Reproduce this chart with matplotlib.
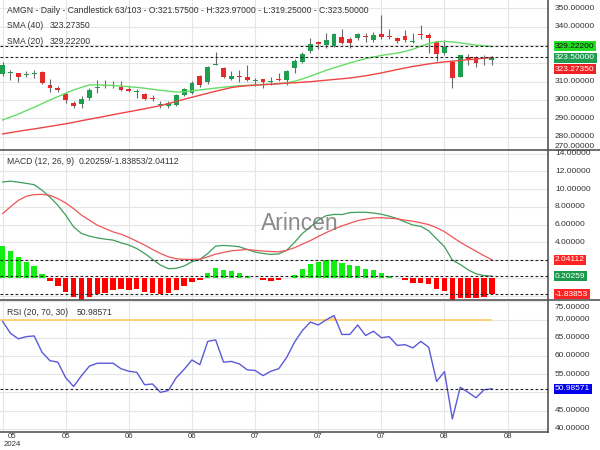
import matplotlib
matplotlib.use("Agg")
import matplotlib.pyplot as plt
from matplotlib.lines import Line2D
import numpy as np

plt.rcParams['font.family'] = ['Liberation Sans', 'DejaVu Sans']

# ---------------- data ----------------
symbol = "AMGN"
shown_bars = 63
total_bars = 103

opens = [314.2, 315.0, 314.6, 313.9, 314.3, 315.5, 308.2, 306.4, 303.1, 298.5,
         297.6, 300.9, 306.4, 307.9, 307.9, 306.9, 306.0, 304.3, 303.3, 301.1,
         297.4, 296.9, 297.5, 302.7, 304.0, 313.1, 309.8, 319.4, 317.3, 311.3,
         312.9, 312.7, 310.2, 311.3, 310.0, 311.6, 310.9, 317.3, 320.9, 326.9,
         331.9, 330.0, 329.5, 334.6, 333.3, 333.7, 334.6, 333.0, 336.0, 334.7,
         333.7, 335.0, 331.6, 335.7, 335.5, 331.7, 325.5, 320.6, 312.7, 323.7,
         323.3, 322.5, 321.575]
highs = [321.0, 316.6, 315.0, 315.7, 316.4, 315.8, 311.5, 307.7, 304.5, 299.2,
         302.2, 306.4, 310.9, 310.9, 310.3, 310.3, 307.7, 305.8, 303.8, 302.7,
         299.2, 299.5, 303.5, 306.4, 310.5, 313.7, 318.3, 326.1, 317.8, 316.0,
         316.4, 319.1, 311.9, 311.7, 312.7, 314.9, 316.4, 322.2, 326.4, 333.7,
         332.2, 336.4, 336.5, 338.6, 334.3, 336.4, 336.6, 337.0, 346.4, 338.6,
         334.5, 338.2, 336.4, 341.0, 336.4, 332.0, 332.8, 321.9, 324.6, 325.0,
         324.0, 324.6, 323.97]
lows = [313.1, 311.0, 310.0, 312.4, 312.2, 308.5, 304.5, 304.3, 298.2, 295.4,
        295.9, 300.0, 303.7, 306.6, 306.6, 304.9, 304.3, 300.9, 300.0, 299.6,
        295.4, 295.8, 296.5, 302.0, 303.5, 307.3, 309.0, 319.1, 312.2, 310.9,
        310.0, 310.3, 307.7, 306.4, 308.2, 310.6, 308.2, 314.6, 320.0, 325.5,
        327.7, 328.2, 329.0, 330.5, 328.2, 333.0, 331.9, 331.8, 333.5, 333.2,
        330.9, 331.8, 330.9, 333.2, 325.5, 321.5, 324.6, 306.4, 312.3, 319.1,
        318.2, 319.1, 319.25]
closes = [319.1, 315.4, 312.8, 314.4, 314.8, 309.1, 306.4, 305.6, 300.0, 296.8,
          300.5, 305.5, 307.3, 307.5, 307.4, 305.5, 305.0, 304.6, 300.6, 300.7,
          297.9, 298.3, 302.7, 305.8, 309.5, 308.0, 317.8, 319.9, 312.7, 313.1,
          312.5, 311.0, 310.6, 309.7, 310.4, 311.2, 315.6, 321.5, 325.0, 330.4,
          330.4, 332.8, 335.8, 331.1, 331.0, 336.0, 334.3, 335.7, 334.5, 334.3,
          332.0, 332.8, 332.1, 335.3, 333.7, 325.3, 328.8, 312.2, 324.6, 322.4,
          320.0, 323.0, 323.5]

sma20 = [289.1, 290.7, 292.3, 294.2, 296.0, 298.0, 300.0, 301.8, 303.7, 305.5,
         306.9, 308.2, 308.3, 308.1, 307.9, 307.6, 307.3, 306.9, 306.4, 305.9,
         305.3, 304.8, 304.4, 304.5, 305.0, 305.5, 306.0, 306.5, 307.0, 307.4,
         307.8, 308.0, 308.2, 308.4, 308.6, 308.9, 309.4, 310.2, 311.5, 313.0,
         314.6, 316.2, 317.6, 318.9, 320.2, 321.4, 322.6, 323.5, 324.3, 325.0,
         325.6, 326.5, 327.7, 329.4, 330.8, 331.8, 332.0, 331.7, 331.2, 330.6,
         330.0, 329.6, 329.222]
sma40 = [281.5, 282.2, 282.9, 283.6, 284.2, 284.9, 285.6, 286.3, 287.0, 287.8,
         288.7, 289.5, 290.3, 291.1, 292.0, 292.8, 293.6, 294.4, 295.2, 296.1,
         296.9, 298.0, 299.2, 300.4, 301.5, 302.6, 303.7, 304.8, 305.8, 306.8,
         307.4, 307.8, 308.1, 308.4, 308.6, 308.9, 309.2, 309.4, 309.7, 310.0,
         310.4, 310.8, 311.2, 311.6, 312.0, 312.6, 313.2, 314.0, 314.8, 315.7,
         316.6, 317.5, 318.3, 319.0, 319.7, 320.3, 320.8, 321.2, 321.6, 322.0,
         322.4, 322.8, 323.2735]

macd_line = [10.8, 10.9, 10.78, 10.65, 10.5, 9.87, 9.1, 8.18, 7.06, 5.74,
             5.0, 4.7, 4.5, 4.36, 4.25, 3.95, 3.69, 3.3, 2.75, 2.08,
             1.44, 1.03, 1.07, 1.33, 1.81, 2.08, 2.75, 3.57, 3.65, 3.6,
             3.5, 3.2, 2.9, 2.75, 2.64, 2.7, 3.1, 4.0, 5.0, 5.74,
             6.5, 7.0, 7.15, 7.13, 7.35, 7.39, 7.39, 7.3, 7.17, 6.95,
             6.68, 6.3, 5.95, 5.8, 5.3, 4.4, 3.5, 2.0, 1.5, 0.9,
             0.45, 0.25, 0.20259]
signal_line = [7.24, 8.0, 8.74, 9.19, 9.38, 9.41, 9.3, 8.93, 8.44, 7.8,
               7.06, 6.5, 5.93, 5.56, 5.18, 4.92, 4.55, 4.13, 3.69, 3.2,
               2.75, 2.37, 2.15, 2.08, 2.08, 2.1, 2.37, 2.67, 2.86, 3.05,
               3.12, 3.2, 3.1, 3.02, 2.96, 2.93, 3.1, 3.4, 3.8, 4.2,
               4.65, 5.1, 5.5, 5.85, 6.15, 6.45, 6.62, 6.75, 6.78, 6.72,
               6.65, 6.5, 6.38, 6.2, 6.0, 5.65, 5.2, 4.6, 4.0, 3.5,
               3.0, 2.5, 2.04112]
macd_hist = [3.56, 3.0, 2.32, 1.8, 1.31, 0.45, -0.34, -0.9, -1.65, -2.2,
             -2.5, -2.13, -1.84, -1.69, -1.39, -1.31, -1.39, -1.31, -1.57, -1.69,
             -1.84, -1.76, -1.39, -0.94, -0.45, -0.26, 0.56, 1.12, 0.86, 0.75,
             0.6, 0.22, 0.02, -0.26, -0.34, -0.26, -0.05, 0.37, 0.97, 1.6,
             1.76, 2.06, 2.06, 1.72, 1.39, 1.31, 1.01, 0.86, 0.49, 0.22,
             -0.05, -0.26, -0.56, -0.56, -0.64, -1.27, -1.46, -2.6, -2.32, -2.28,
             -2.32, -2.13, -1.83853]

rsi = [69.5, 66.2, 64.7, 65.3, 65.5, 61.0, 58.7, 58.3, 54.0, 51.6,
       54.6, 57.2, 58.0, 58.0, 58.0, 56.5, 55.8, 55.5, 52.1, 52.3,
       50.0, 50.5, 54.0, 56.3, 58.9, 57.6, 64.0, 64.4, 58.3, 58.5,
       57.8, 56.2, 56.0, 54.6, 55.8, 56.5, 59.6, 63.8, 67.0, 69.3,
       68.5, 69.9, 71.1, 65.9, 65.9, 68.5, 65.6, 66.8, 65.0, 65.3,
       62.9, 63.1, 62.2, 64.0, 62.4, 53.0, 55.7, 42.7, 51.4, 50.0,
       48.5, 50.7, 50.98571]

month_labels = ["05", "05", "06", "06", "07", "07", "07", "08", "08"]
year_label = "2024"
price_ticks = [270, 280, 290, 300, 310, 320, 330, 340, 350]
macd_ticks = [-2, 0, 2, 4, 6, 8, 10, 12, 14]
rsi_ticks = [40, 45, 50, 55, 60, 65, 70, 75]
rsi_params = (20, 70, 30)
macd_params = (12, 26, 9)
sma_fast, sma_slow = 20, 40

# ---------------- style ----------------
W, H = 600, 450
UP = '#1f9e50'
DOWN = '#e52a2a'
WICK = '#6a6a6a'
GRID = '#e6e6e6'
SPINE = '#555555'
TXT = '#333333'
FS = 6.0

fig = plt.figure(figsize=(W / 100, H / 100), dpi=100)
fig.patch.set_facecolor('white')

PLOT_R = 548.0
def make_ax(y0, y1):
    return fig.add_axes([0, 1 - y1 / H, PLOT_R / W, (y1 - y0) / H])

ax1 = make_ax(0, 150)
ax2 = make_ax(150, 300)
ax3 = make_ax(300, 431.7)

n = len(closes)
x = np.arange(n)
xlim = (-0.33, 69.12)
step = 8
xt = np.arange(0, step * len(month_labels), step)

for ax in (ax1, ax2, ax3):
    ax.set_xlim(*xlim)
    ax.set_xticks(xt)
    ax.tick_params(left=False, right=False, bottom=False, top=False,
                   labelleft=False, labelright=False, labelbottom=False)
    ax.grid(True, color=GRID, lw=0.8, zorder=0)
    ax.set_axisbelow(True)
    for s in ('left', 'top', 'bottom'):
        ax.spines[s].set_visible(False)
    ax.spines['right'].set_color(SPINE)
    ax.spines['right'].set_linewidth(1.2)
ax3.spines['bottom'].set_visible(True)
ax3.spines['bottom'].set_color(SPINE)
ax3.spines['bottom'].set_linewidth(1.2)

# ---------------- price panel ----------------
ax1.set_ylim(272.7, 354.6)
ax1.set_yticks([t for t in price_ticks if 272.7 < t < 354.6])
o = np.array(opens); c = np.array(closes)
hi = np.array(highs); lo = np.array(lows)
up = c >= o
ax1.vlines(x, lo, hi, color=WICK, lw=0.8, zorder=2)
body = np.maximum(np.abs(c - o), 0.55)
bottom = np.minimum(o, c) - np.where(np.abs(c - o) < 0.55, (0.55 - np.abs(c - o)) / 2, 0)
ax1.bar(x, body, bottom=bottom, width=0.62,
        color=np.where(up, UP, DOWN), edgecolor='none', zorder=3)
ax1.plot(x, sma20, color='#66dd66', lw=1.0, zorder=4)
ax1.plot(x, sma40, color='#ee4444', lw=1.0, zorder=4)
ax1.axhline(sma20[-1], color='#222222', lw=0.8, ls=(0, (2.5, 2)), zorder=5)
ax1.axhline(closes[-1], color='#222222', lw=0.8, ls=(0, (2.5, 2)), zorder=5)

# ---------------- MACD panel ----------------
ax2.set_ylim(-2.50, 14.41)
ax2.set_yticks(macd_ticks)
hh = np.array(macd_hist)
ax2.bar(x, hh, width=0.68, color=np.where(hh >= 0, '#11ee11', '#ff0000'),
        edgecolor='none', zorder=2)
ax2.plot(x, macd_line, color='#3d9d5d', lw=0.9, zorder=3)
ax2.plot(x, signal_line, color='#ee5555', lw=0.9, zorder=3)
for v in (signal_line[-1], macd_line[-1], macd_hist[-1]):
    ax2.axhline(v, color='#222222', lw=0.8, ls=(0, (2.5, 2)), zorder=4)

# ---------------- RSI panel ----------------
ax3.set_ylim(39.2, 75.36)
ax3.set_yticks(rsi_ticks)
r = np.array(rsi)
ax3.fill_between(x, r, rsi_params[1], where=r > rsi_params[1], interpolate=True,
                 color='#ffd59a', lw=0, zorder=2)
ax3.hlines(rsi_params[1], xlim[0], n - 1, color='#ffcc66', lw=1.2, zorder=2)
ax3.plot(x, rsi, color='#5a5ad8', lw=1.0, zorder=3)
ax3.axhline(rsi[-1], color='#222222', lw=0.8, ls=(0, (2.5, 2)), zorder=4)

# ---------------- separators ----------------
for yy in (150, 300):
    fig.add_artist(Line2D([0, 1], [1 - yy / H, 1 - yy / H], color=SPINE, lw=1.2))

# ---------------- right labels ----------------
def ypx(ax, v):
    return H - ax.transData.transform((0, v))[1]

def right_labels(ax, ticks, top, bot, mt, mb, boxes):
    box_ys = []
    placed = []
    last = None
    for v, txt, fc, tc in sorted(boxes, key=lambda b: -b[0]):
        y = ypx(ax, v)
        if last is not None and y - last < 11.3:
            y = last + 11.3
        last = y
        placed.append((y, txt, fc, tc))
        box_ys.append(y)
    for t in ticks:
        y = ypx(ax, t)
        y = min(max(y, top + mt), bot - mb)
        if any(abs(y - b) < 8 for b in box_ys):
            continue
        fig.text(555 / W, 1 - y / H, f"{t:.5f}", fontsize=FS, color=TXT,
                 ha='left', va='center')
    for y, txt, fc, tc in placed:
        fig.text(555 / W, 1 - y / H, txt, fontsize=FS, color=tc, ha='left',
                 va='center', zorder=10,
                 bbox=dict(boxstyle='square,pad=0.18', fc=fc, ec='none'))

right_labels(ax1, price_ticks, 0, 150, 4, 3.3,
             [(sma20[-1], f"{sma20[-1]:.5f}", '#22dd22', '#111111'),
              (closes[-1], f"{closes[-1]:.5f}", '#1f9e50', 'white'),
              (sma40[-1], f"{sma40[-1]:.5f}", '#ee2222', 'white')])
right_labels(ax2, macd_ticks, 150, 300, 3.3, 3,
             [(signal_line[-1], f"{signal_line[-1]:.5f}", '#ff2222', 'white'),
              (macd_line[-1], f"{macd_line[-1]:.5f}", '#1a9a4a', 'white'),
              (macd_hist[-1], f"{macd_hist[-1]:.5f}", '#ff2222', 'white')])
right_labels(ax3, rsi_ticks, 300, 431.7, 7.3, 3,
             [(rsi[-1], f"{rsi[-1]:.5f}", '#0000ee', 'white')])

# ---------------- panel titles ----------------
def ftext(xp, yp, s, **kw):
    fig.text(xp / W, 1 - yp / H, s, fontsize=FS + 0.2, color=TXT, ha='left',
             va='center', **kw)

ftext(7.3, 10.7, f"{symbol} - Daily - Candlestick")
ftext(115, 10.7, f"{shown_bars}/{total_bars} - O:{opens[-1]:.5f} - H:{highs[-1]:.5f}"
                  f" - L:{lows[-1]:.5f} - C:{closes[-1]:.5f}")
ftext(7.3, 25.5, f"SMA ({sma_slow})")
ftext(50, 25.5, f"{sma40[-1]:.5f}")
ftext(7.3, 41, f"SMA ({sma_fast})")
ftext(50, 41, f"{sma20[-1]:.5f}")
ftext(7.3, 161.7, f"MACD ({macd_params[0]}, {macd_params[1]}, {macd_params[2]})")
ftext(79, 161.7, f"{macd_line[-1]:.5f}/{macd_hist[-1]:.5f}/{signal_line[-1]:.5f}")
ftext(7.3, 312.7, f"RSI ({rsi_params[0]}, {rsi_params[1]}, {rsi_params[2]})")
ftext(76.7, 312.7, f"{rsi[-1]:.5f}")

# watermark
fig.text(300 / W, 1 - 223.5 / H, "Arincen", fontsize=16.5, color='#777777',
         alpha=0.85, ha='center', va='center')

# ---------------- x labels ----------------
for k, (pos, lab) in enumerate(zip(xt, month_labels)):
    xd = ax3.transData.transform((pos, 0))[0]
    if k == 0:
        fig.text(12 / W, 1 - 437 / H, lab, fontsize=5.6, color=TXT,
                 ha='center', va='center')
        fig.text(12 / W, 1 - 445 / H, year_label, fontsize=5.6, color=TXT,
                 ha='center', va='center')
    else:
        fig.text(xd / W, 1 - 437 / H, lab, fontsize=5.6, color=TXT,
                 ha='center', va='center')

fig.savefig("out.png", dpi=100, facecolor='white')
